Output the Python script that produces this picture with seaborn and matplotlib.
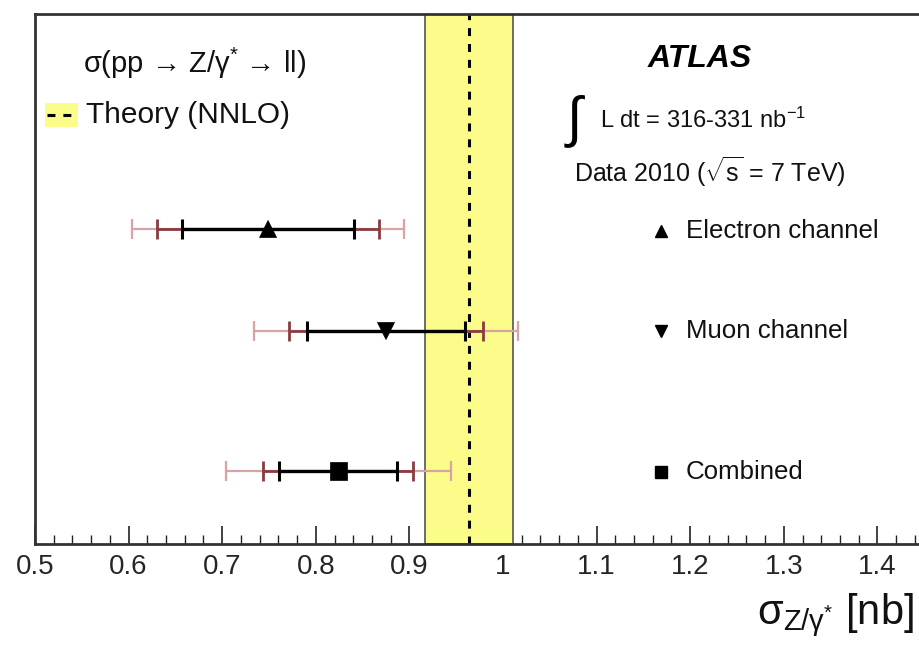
import matplotlib
matplotlib.use("Agg")
import matplotlib.pyplot as plt
import seaborn as sns
import pandas as pd
from matplotlib.ticker import MultipleLocator, FuncFormatter

# ---- data ----
channels = ["Electron channel", "Muon channel", "Combined"]
sigma = [0.749, 0.875, 0.824]
err_stat = [0.092, 0.084, 0.063]
err_stat_syst = [0.119, 0.104, 0.080]
err_total = [0.145, 0.141, 0.120]
theory_value = 0.964
theory_err = 0.047
row_pos = [3.15, 2.13, 0.73]
markers = {"Electron channel": "^", "Muon channel": "v", "Combined": "s"}

df = pd.DataFrame({"channel": channels, "sigma": sigma, "row": row_pos})

sns.set_theme(style="white")
plt.rcParams["font.family"] = ["Liberation Sans", "DejaVu Sans"]
plt.rcParams["mathtext.fontset"] = "custom"
plt.rcParams["mathtext.rm"] = "Liberation Sans"
plt.rcParams["mathtext.it"] = "Liberation Sans:italic"
plt.rcParams["mathtext.bf"] = "Liberation Sans:bold"

W, H = 919, 664
fig = plt.figure(figsize=(W / 100, H / 100), dpi=100)
ax = fig.add_axes([35 / W, (H - 544) / H, (971 - 35) / W, (544 - 14) / H])

# theory band and line
ax.axvspan(theory_value - theory_err, theory_value + theory_err,
           facecolor="#fcfc8a", edgecolor="#555555", linewidth=1.2, zorder=1)
ax.axvline(theory_value, color="black", lw=2.2, dashes=(2.6, 2.6), zorder=2)

# error bars: total (pink), stat+syst (dark red), stat (black)
ax.errorbar(df["sigma"], df["row"], xerr=err_total, fmt="none",
            ecolor="#d9a3a6", elinewidth=1.6, capsize=7.5, capthick=1.6, zorder=3)
ax.errorbar(df["sigma"], df["row"], xerr=err_stat_syst, fmt="none",
            ecolor="#8a3b40", elinewidth=2.0, capsize=7.5, capthick=2.0, zorder=3.5)
ax.errorbar(df["sigma"], df["row"], xerr=err_stat, fmt="none",
            ecolor="black", elinewidth=2.4, capsize=7.5, capthick=2.2, zorder=4)

sns.scatterplot(data=df, x="sigma", y="row", style="channel", markers=markers,
                color="black", s=150, edgecolor="black", linewidth=0.5,
                legend=False, zorder=5, ax=ax)

ax.set_xlim(0.5, 1.5)
ax.set_ylim(0, 5.30)
ax.set_xlabel("")
ax.set_ylabel("")
ax.set_yticks([])
ax.xaxis.set_major_locator(MultipleLocator(0.1))
ax.xaxis.set_minor_locator(MultipleLocator(0.02))
ax.xaxis.set_major_formatter(FuncFormatter(lambda v, p: "" if v > 1.45 else f"{v:g}"))
ax.tick_params(axis="x", which="major", direction="in", length=13, width=1.2,
               labelsize=20, pad=7, color="#222222", bottom=True)
ax.tick_params(axis="x", which="minor", direction="in", length=6.5, width=1.0,
               color="#222222", bottom=True)
for s in ax.spines.values():
    s.set_color("#333333")
    s.set_linewidth(2.0)

# channel labels with key markers
key_x_px = 661
label_x_px = 686
label_y_px = [231, 331, 472]
for ch, ypx in zip(channels, label_y_px):
    fig.lines.append(plt.Line2D([key_x_px / W], [(H - ypx) / H], marker=markers[ch],
                                markersize=8.5, color="black",
                                transform=fig.transFigure, figure=fig))
    fig.text(label_x_px / W, (H - ypx) / H, ch, fontsize=18.6, va="center",
             ha="left", color="#111111")

# top-left legend
fig.text(83 / W, (H - 63) / H, "σ(pp → Z/γ$^{*}$ → ll)", fontsize=21,
         va="center", ha="left", color="#111111")
fig.patches.append(plt.Rectangle((45 / W, (H - 127) / H), 33 / W, 24 / H,
                                 facecolor="#fcfc8a", edgecolor="none",
                                 transform=fig.transFigure, figure=fig))
fig.lines.append(plt.Line2D([47 / W, 77 / W], [(H - 115) / H] * 2, color="black",
                            lw=2.2, dashes=(2.6, 2.6), transform=fig.transFigure,
                            figure=fig))
fig.text(86 / W, (H - 115) / H, "Theory (NNLO)", fontsize=21.5, va="center",
         ha="left", color="#111111")

# ATLAS block
fig.text(700 / W, (H - 59) / H, "ATLAS", fontsize=23, fontweight="bold",
         fontstyle="italic", va="center", ha="center", color="black")
fig.text(567 / W, (H - 121) / H, "∫", fontsize=40, va="center", ha="left",
         color="black")
fig.text(600 / W, (H - 120) / H, "L dt = 316-331 nb$^{\\mathregular{-1}}$",
         fontsize=17, va="center", ha="left", color="#111111")
fig.text(574 / W, (H - 172) / H, "Data 2010 ($\\sqrt{\\mathregular{s}}$ = 7 TeV)",
         fontsize=18, va="center", ha="left", color="#111111")

# x-axis title
fig.text(757 / W, (H - 624) / H, "σ$_{\\mathregular{Z/\\gamma^{*}}}$ [nb]",
         fontsize=30, va="baseline", ha="left", color="#111111")

fig.savefig("out.png", dpi=100)
